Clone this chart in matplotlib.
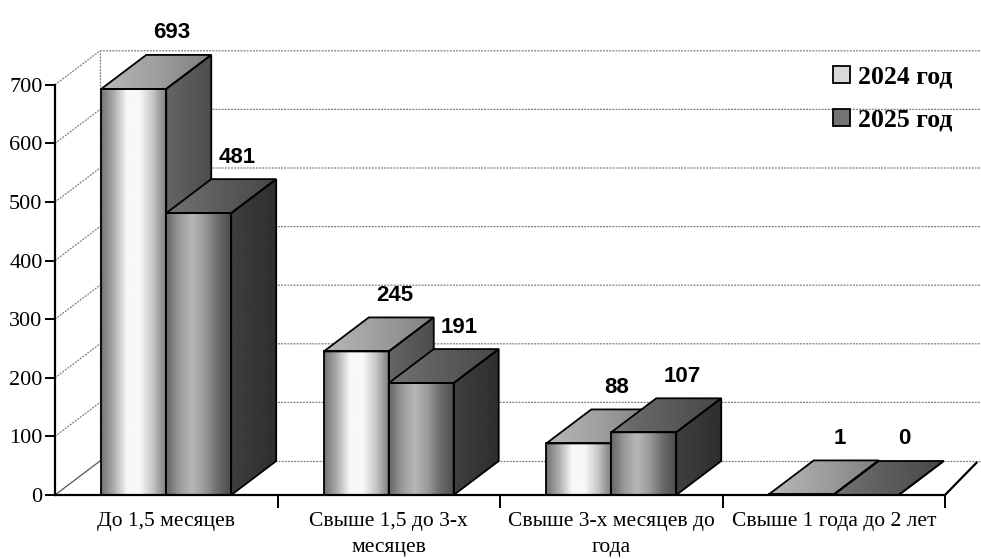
import numpy as np
import matplotlib
matplotlib.use("Agg")
import matplotlib.pyplot as plt
from matplotlib.patches import Polygon, Patch

# ---------------- data ----------------
categories = ["До 1,5 месяцев", "Свыше 1,5 до 3-х\nмесяцев",
              "Свыше 3-х месяцев до\nгода", "Свыше 1 года до 2 лет"]
series_names = ["2024 год", "2025 год"]
values_2024 = [693, 245, 88, 1]
values_2025 = [481, 191, 107, 0]
yticks = [0, 100, 200, 300, 400, 500, 600, 700]

# ---------------- geometry / style ----------------
W, H, DPI = 981, 559, 100
px_per_cat = 222.5
px_per_unit = 0.586
left_px, floor_px = 55, 495
XR = (W - left_px) / px_per_cat
YT = floor_px / px_per_unit
DX = 45 / px_per_cat          # depth offset in x (data units)
DY = 34 / px_per_unit         # depth offset in y (data units)
BW = 0.292                    # bar width
ncat = len(categories)

SERIF = ["Liberation Serif", "DejaVu Serif"]
SANS = ["Liberation Sans", "DejaVu Sans"]

fig = plt.figure(figsize=(W / DPI, H / DPI), dpi=DPI)
ax = fig.add_axes([left_px / W, (H - floor_px) / H,
                   (XR * px_per_cat) / W, (YT * px_per_unit) / H])
ax.set_xlim(0, XR)
ax.set_ylim(0, YT)
ax.patch.set_alpha(0)

grid_kw = dict(color="#7a7a7a", lw=0.9, ls=(0, (1.5, 1)), zorder=0.5, clip_on=False)
# back wall gridlines
ymax = yticks[-1]
for v in yticks[1:]:
    ax.plot([0, DX, XR], [v, v + DY, v + DY], **grid_kw)
# floor back edge & wall left edge
ax.plot([DX, XR], [DY, DY], **grid_kw)
ax.plot([DX, DX], [DY, ymax + DY], **grid_kw)
# floor side edges
ax.plot([0, DX], [0, DY], color="#555555", lw=0.9, zorder=0.6)
ax.plot([ncat, ncat + DX * 0.7], [0, DY * 0.95], color="black", lw=1.6, zorder=0.6, clip_on=False)


def shade(clip_patch, xs, ys, profile, z):
    x0, x1, y0, y1 = min(xs), max(xs), min(ys), max(ys)
    if y1 - y0 <= 0 or x1 - x0 <= 0:
        return
    grad = np.interp(np.linspace(0, 1, 128), np.linspace(0, 1, len(profile)), profile)[None, :]
    im = ax.imshow(grad, cmap="gray", vmin=0, vmax=1, extent=(x0, x1, y0, y1),
                   aspect="auto", zorder=z, interpolation="bilinear")
    im.set_clip_path(clip_patch)


styles = [
    dict(front=[0.45, 0.68, 0.97, 0.97, 0.78, 0.5],
         top=[0.72, 0.62, 0.5], side=[0.4, 0.3]),
    dict(front=[0.4, 0.6, 0.72, 0.6, 0.42, 0.3],
         top=[0.45, 0.36, 0.28], side=[0.25, 0.18]),
]

all_series = [values_2024, values_2025]
z = 2.0
for c in range(ncat):
    for s, vals in enumerate(all_series):
        v = vals[c]
        x0 = c + 0.5 - BW + s * BW
        x1 = x0 + BW
        st = styles[s]
        # front face
        bars = ax.bar([x0], [v], width=BW, align="edge", facecolor="none",
                      edgecolor="black", lw=1.3, zorder=z + 0.2)
        shade(bars[0], [x0, x1], [0, v], st["front"], z)
        # top face
        top = [(x0, v), (x1, v), (x1 + DX, v + DY), (x0 + DX, v + DY)]
        tp = Polygon(top, closed=True, fc="none", ec="black", lw=1.3, zorder=z + 0.2)
        ax.add_patch(tp)
        shade(tp, [p[0] for p in top], [p[1] for p in top], st["top"], z)
        # side face
        side = [(x1, 0), (x1 + DX, DY), (x1 + DX, v + DY), (x1, v)]
        sp = Polygon(side, closed=True, fc="none", ec="black", lw=1.3, zorder=z + 0.2)
        ax.add_patch(sp)
        shade(sp, [p[0] for p in side], [p[1] for p in side], st["side"], z)
        # value label
        ax.text(x0 + BW / 2 + DX * 0.85, v + DY + 22 / px_per_unit, str(v),
                ha="center", va="center", fontsize=16, fontweight="bold",
                family=SANS, zorder=20)
        z += 0.5

ax.set_xlim(0, XR)
ax.set_ylim(0, YT)

# axes
for sp_name in ["top", "right"]:
    ax.spines[sp_name].set_visible(False)
ax.spines["left"].set_bounds(0, ymax)
ax.spines["bottom"].set_bounds(0, ncat)
ax.spines["left"].set_linewidth(1.6)
ax.spines["bottom"].set_linewidth(1.6)
ax.spines["left"].set_zorder(30)
ax.spines["bottom"].set_zorder(30)

ax.set_yticks(yticks)
ax.set_yticklabels([str(t) for t in yticks], family=SERIF, fontsize=16)
ax.tick_params(axis="y", direction="out", length=7, width=1.4, pad=2)

ax.set_xticks([c + 0.5 for c in range(ncat)])
ax.set_xticklabels(categories, family=SERIF, fontsize=15.5, linespacing=1.55)
ax.set_xticks(list(range(1, ncat + 1)), minor=True)
ax.tick_params(axis="x", which="major", length=0, pad=12)
ax.tick_params(axis="x", which="minor", direction="out", length=9, width=1.4)

# legend
handles = [Patch(facecolor="0.85", edgecolor="black", lw=1.3),
           Patch(facecolor="0.45", edgecolor="black", lw=1.3)]
leg = ax.legend(handles, series_names, loc="upper left",
                bbox_to_anchor=(810 / W, 1 - 42 / H), bbox_transform=fig.transFigure,
                frameon=False, handlelength=0.65, handleheight=0.65, handletextpad=0.3,
                labelspacing=0.8, prop=dict(family=SERIF, weight="bold", size=18.5))
leg.set_zorder(40)

fig.savefig("out.png", dpi=DPI)
